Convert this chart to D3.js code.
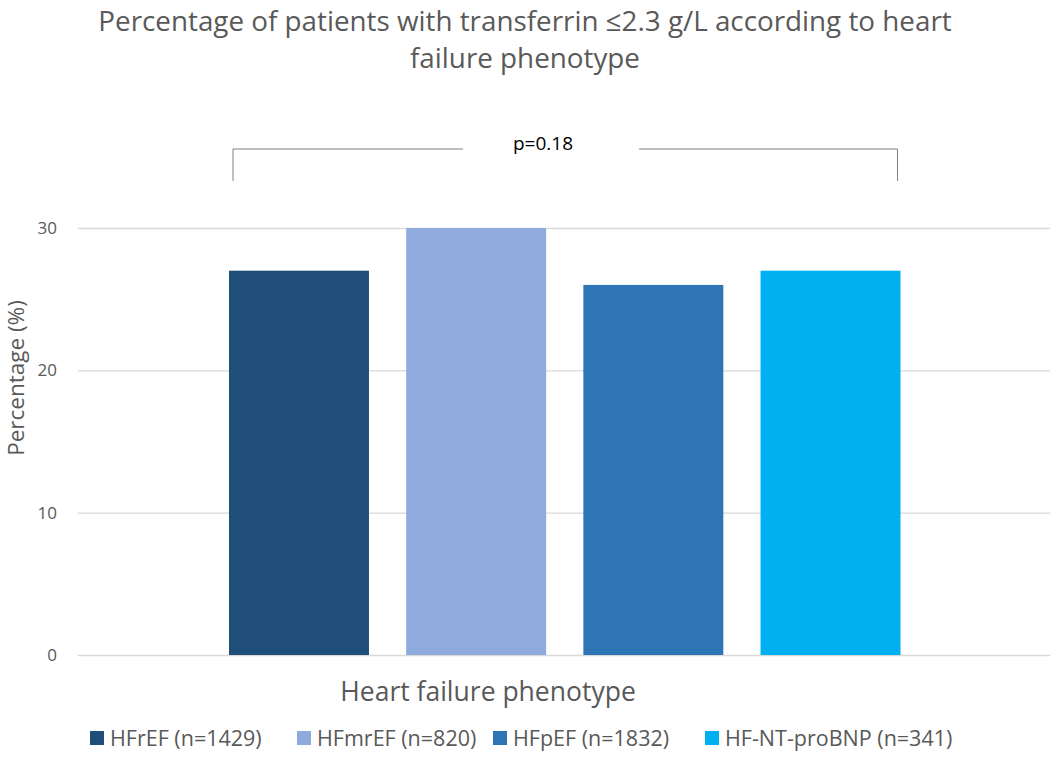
<!DOCTYPE html>
<html>
<head>
<meta charset="utf-8">
<script src="https://cdn.jsdelivr.net/npm/d3@7"></script>
<style>
  body { margin: 0; background: #fff; }
  text { fill: #595959; }
</style>
</head>
<body>
<div id="chart"></div>
<script>
//--------------------------------------------------------------------------------
// data
var phenotypes = ["HFrEF (n=1429)", "HFmrEF (n=820)", "HFpEF (n=1832)", "HF-NT-proBNP (n=341)"];
var percentages = [27, 30, 26, 27];
var barColors = ["#1f4e79", "#8faadc", "#2e75b6", "#00b0f0"];
var yTicks = [0, 10, 20, 30];
var titleLines = ["Percentage of patients with transferrin \u22642.3 g/L according to heart", "failure phenotype"];
var pValueLabel = "p=0.18";
//--------------------------------------------------------------------------------

var width = 1050, height = 758;
var plotLeft = 78, plotRight = 1050, plotTop = 228, plotBottom = 655;

var svg = d3.select("#chart").append("svg")
    .attr("width", width)
    .attr("height", height);

  // title
svg.append("g").selectAll("text")
   .data(titleLines)
   .enter()
   .append("text")
   .attr("x", 525)
   .attr("y", function(d, i){ return 31 + i * 37; })
   .attr("text-anchor", "middle")
   .style("font-family", "'Open Sans', sans-serif")
   .style("font-size", "27.8px")
   .text(function(d){ return d; });

var yScale = d3.scaleLinear()
               .domain([0, 30])
               .range([plotBottom, plotTop]);

  // four series inside the single "Heart failure phenotype" category
var xSeries = d3.scaleBand()
                .domain(phenotypes)
                .range([229, 900.5])
                .paddingInner(0.21)
                .paddingOuter(0);

  // gridlines + tick labels
var yAxis = d3.axisLeft(yScale)
              .tickValues(yTicks)
              .tickSize(-(plotRight - plotLeft))
              .tickPadding(21);

var yAxisG = svg.append("g")
   .attr("transform", "translate(" + plotLeft + ",0)")
   .call(yAxis);
yAxisG.select(".domain").remove();
yAxisG.selectAll(".tick line").attr("stroke", "#d9d9d9").attr("stroke-width", 1.3);
yAxisG.selectAll(".tick text")
   .attr("fill", "#595959")
   .style("font-family", "'Open Sans', sans-serif")
   .style("font-size", "17px");

  // bars
svg.append("g").selectAll("rect")
   .data(phenotypes)
   .enter()
   .append("rect")
   .attr("x", function(d){ return xSeries(d); })
   .attr("width", xSeries.bandwidth())
   .attr("y", function(d, i){ return yScale(percentages[i]); })
   .attr("height", function(d, i){ return plotBottom - yScale(percentages[i]); })
   .attr("fill", function(d, i){ return barColors[i]; });

  // significance bracket
var bx0 = xSeries(phenotypes[0]) + 4;
var bx1 = xSeries(phenotypes[3]) + xSeries.bandwidth() - 3;
var bTop = 149, bBottom = 181;
svg.append("path")
   .attr("d", "M" + bx0 + "," + bBottom + "V" + bTop + "H" + 463)
   .attr("fill", "none").attr("stroke", "#808080").attr("stroke-width", 1);
svg.append("path")
   .attr("d", "M" + 639 + "," + bTop + "H" + bx1 + "V" + bBottom)
   .attr("fill", "none").attr("stroke", "#808080").attr("stroke-width", 1);
svg.append("text")
   .attr("x", 543)
   .attr("y", 150)
   .attr("text-anchor", "middle")
   .style("fill", "#000")
   .style("font-family", "'Open Sans', sans-serif")
   .style("font-size", "19px")
   .text(pValueLabel);

  // axis titles
svg.append("text")
   .attr("x", 488)
   .attr("y", 701)
   .attr("text-anchor", "middle")
   .style("font-family", "'Open Sans', sans-serif")
   .style("font-size", "26.5px")
   .text("Heart failure phenotype");

svg.append("text")
   .attr("transform", "translate(24,378) rotate(-90)")
   .attr("text-anchor", "middle")
   .style("font-family", "'Open Sans', sans-serif")
   .style("font-size", "22.5px")
   .text("Percentage (%)");

  // legend
var legendX = [90, 297, 493, 705];
var legend = svg.append("g").selectAll("g")
   .data(phenotypes)
   .enter()
   .append("g")
   .attr("transform", function(d, i){ return "translate(" + legendX[i] + ",731)"; });
legend.append("rect")
   .attr("width", 14).attr("height", 14)
   .attr("fill", function(d, i){ return barColors[i]; });
legend.append("text")
   .attr("x", 20)
   .attr("y", 14.5)
   .style("font-family", "'Open Sans', sans-serif")
   .style("font-size", "21.5px")
   .text(function(d){ return d; });
</script>
</body>
</html>
